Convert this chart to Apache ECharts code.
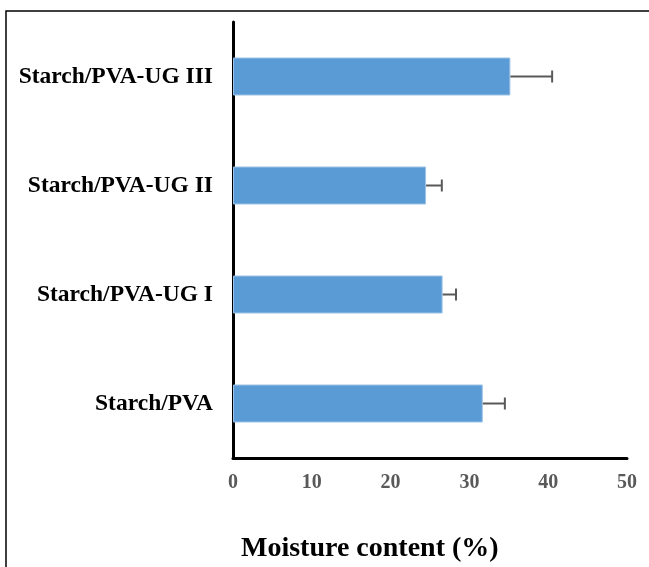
<!DOCTYPE html>
<html>
<head>
<meta charset="utf-8">
<script src="https://cdn.jsdelivr.net/npm/echarts@6/dist/echarts.min.js"></script>
<style>html,body{margin:0;padding:0;background:#fff;}#main{width:649px;height:567px;}</style>
</head>
<body>
<div id="main"></div>
<script>
const categories = ['Starch/PVA', 'Starch/PVA-UG I', 'Starch/PVA-UG II', 'Starch/PVA-UG III'];
const moisture = [31.7, 26.6, 24.5, 35.2];
const errors = [2.8, 1.7, 2.0, 5.3];
const xTicks = [0, 10, 20, 30, 40, 50];

const chart = echarts.init(document.getElementById('main'));
const serif = '"Liberation Serif", "Times New Roman", serif';
const errData = moisture.map((v, i) => [i, v, v + errors[i]]);

chart.setOption({
  animation: false,
  backgroundColor: '#ffffff',
  grid: { left: 233, right: 22, top: 22, bottom: 109, containLabel: false },
  xAxis: {
    type: 'value', min: xTicks[0], max: xTicks[xTicks.length - 1], interval: 10,
    axisLine: { show: true, lineStyle: { color: '#000', width: 3 } },
    axisTick: { show: false },
    splitLine: { show: false },
    axisLabel: { color: '#595959', fontFamily: serif, fontWeight: 'bold', fontSize: 20, margin: 15 }
  },
  yAxis: {
    type: 'category', data: categories,
    axisLine: { show: true, lineStyle: { color: '#000', width: 3 } },
    axisTick: { show: false },
    axisLabel: { color: '#000', fontFamily: serif, fontWeight: 'bold', fontSize: 23.5, margin: 20, padding: [4, 0, 0, 0] }
  },
  graphic: [
    { type: 'rect', shape: { x: 6, y: 11, width: 700, height: 600 }, style: { fill: 'none', stroke: '#000', lineWidth: 1.5 }, silent: true },
    { type: 'text', left: 241, top: 535, style: { text: 'Moisture content (%)', font: 'bold 28px ' + serif, fill: '#000' } }
  ],
  series: [
    {
      type: 'bar', data: moisture, barWidth: 38,
      itemStyle: { color: '#5B9BD5', borderColor: '#9DC3E6', borderWidth: 1 }
    },
    {
      type: 'custom', data: errData, z: 5,
      renderItem: function (params, api) {
        const i = api.value(0);
        const p1 = api.coord([api.value(1), i]);
        const p2 = api.coord([api.value(2), i]);
        const h = 6;
        return {
          type: 'group',
          children: [
            { type: 'line', shape: { x1: p1[0], y1: p1[1], x2: p2[0], y2: p2[1] }, style: { stroke: '#595959', lineWidth: 2 } },
            { type: 'line', shape: { x1: p2[0], y1: p2[1] - h, x2: p2[0], y2: p2[1] + h }, style: { stroke: '#595959', lineWidth: 2 } }
          ]
        };
      },
      encode: { x: [1, 2], y: 0 }
    }
  ]
});
</script>
</body>
</html>
